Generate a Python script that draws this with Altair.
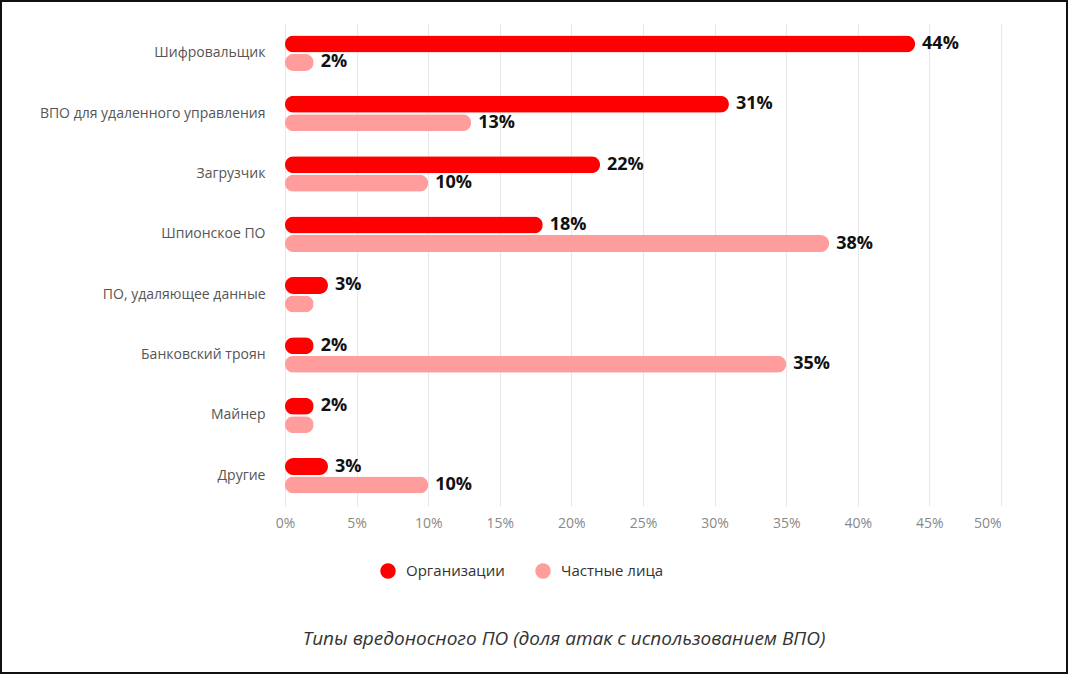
import altair as alt
import pandas as pd

categories = ["Шифровальщик", "ВПО для удаленного управления", "Загрузчик",
              "Шпионское ПО", "ПО, удаляющее данные", "Банковский троян",
              "Майнер", "Другие"]
series_names = ["Организации", "Частные лица"]
org_values = [44, 31, 22, 18, 3, 2, 2, 3]
private_values = [2, 13, 10, 38, 2, 35, 2, 10]
org_labels = ["44%", "31%", "22%", "18%", "3%", "2%", "2%", "3%"]
private_labels = ["2%", "13%", "10%", "38%", "", "35%", "", "10%"]
x_ticks = [0, 5, 10, 15, 20, 25, 30, 35, 40, 45, 50]
colors = ["#fe0000", "#ff9c9c"]
title_text = "Типы вредоносного ПО (доля атак с использованием ВПО)"

rows = []
for c, v, l in zip(categories, org_values, org_labels):
    rows.append({"category": c, "series": series_names[0], "value": v, "label": l})
for c, v, l in zip(categories, private_values, private_labels):
    rows.append({"category": c, "series": series_names[1], "value": v, "label": l})
df = pd.DataFrame(rows)

FONT = "Open Sans"

base = alt.Chart(df).encode(
    y=alt.Y("category:N", sort=categories,
            scale=alt.Scale(paddingInner=0.4, paddingOuter=0.2),
            axis=alt.Axis(title=None, domain=False, ticks=False, labelPadding=20,
                          labelFontSize=14, labelColor="#555", labelFont=FONT,
                          labelLimit=400)),
    yOffset=alt.YOffset("series:N", sort=series_names,
                        scale=alt.Scale(paddingInner=0.05)),
)

bars = base.mark_bar(height=17, cornerRadius=8.5).encode(
    x=alt.X("value:Q", scale=alt.Scale(domain=[0, 50], nice=False),
            axis=alt.Axis(values=x_ticks, labelExpr="datum.value + '%'", grid=True,
                          gridColor="#e8e8e8", domain=False, ticks=False,
                          labelFlush=False,
                          labelAlign=alt.ExprRef(expr="datum.value == 50 ? 'right' : 'center'"),
                          labelPadding=10, labelFontSize=14, labelColor="#888",
                          labelFont=FONT, title=None)),
    color=alt.Color("series:N", sort=series_names,
                    scale=alt.Scale(domain=series_names, range=colors),
                    legend=alt.Legend(orient="none", legendX=95, legendY=540,
                                      direction="horizontal", title=None,
                                      symbolType="circle", symbolSize=240,
                                      labelFontSize=15, labelColor="#333",
                                      labelFont=FONT, columnPadding=30,
                                      labelOffset=10, symbolStrokeWidth=0)),
)

texts = base.mark_text(align="left", dx=7, baseline="middle", fontWeight="bold",
                       fontSize=18, color="#111", font=FONT).encode(
    x=alt.X("value:Q"),
    text=alt.Text("label:N"),
)

frame = alt.Chart(pd.DataFrame({"a": [0]})).mark_rect(
    filled=False, stroke="#111", strokeWidth=2).encode(
    x=alt.value(-284), x2=alt.value(782), y=alt.value(-22), y2=alt.value(650))

chart = alt.layer(frame, bars, texts).properties(
    width=716, height=483,
    autosize=alt.AutoSizeParams(type="none"),
    padding={"left": 285, "top": 23, "right": 67, "bottom": 169},
    background="white",
    title=alt.TitleParams(title_text, orient="bottom", anchor="middle", dx=-79,
                          offset=-44, fontStyle="italic", fontSize=19,
                          color="#333", font=FONT, fontWeight="normal"),
).configure_view(strokeWidth=0)

chart.save("out.html", embed_options={"renderer": "svg", "actions": False})
